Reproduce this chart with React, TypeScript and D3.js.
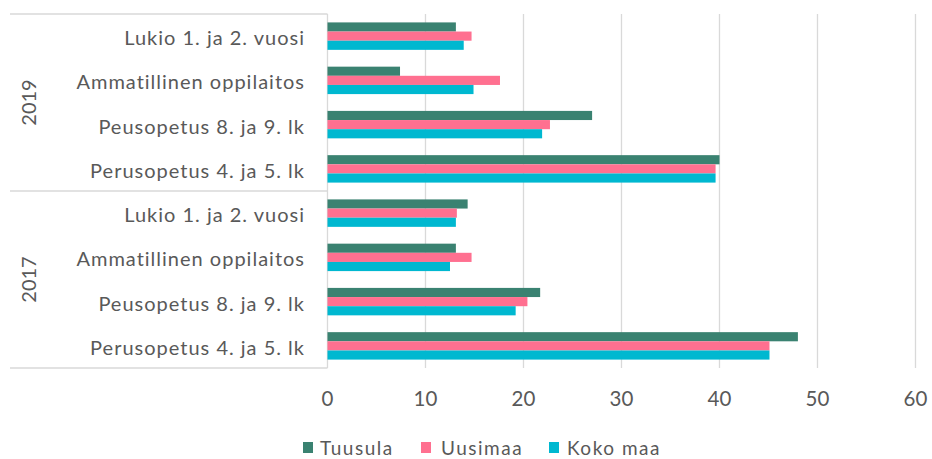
import React from "react";
import * as d3 from "d3";

const years = ["2019", "2017"];
const categories = [
  "Lukio 1. ja 2. vuosi",
  "Ammatillinen oppilaitos",
  "Peusopetus 8. ja 9. lk",
  "Perusopetus 4. ja 5. lk",
];
const seriesNames = ["Tuusula", "Uusimaa", "Koko maa"];
const seriesColors = ["#3A8271", "#FF7090", "#00B8D0"];
// values per year, in category order, per series
const tuusula2019 = [13.1, 7.4, 27.0, 40.0];
const uusimaa2019 = [14.7, 17.6, 22.7, 39.6];
const kokomaa2019 = [13.9, 14.9, 21.9, 39.6];
const tuusula2017 = [14.3, 13.1, 21.7, 48.0];
const uusimaa2017 = [13.2, 14.7, 20.4, 45.1];
const kokomaa2017 = [13.1, 12.5, 19.2, 45.1];
const xTicks = [0, 10, 20, 30, 40, 50, 60];

const W = 932;
const H = 459;
const left = 327.5;
const right = 915.5;
const top = 14;
const bottom = 368;

export default function App() {
  const rows: { year: string; cat: string; vals: number[] }[] = [];
  const data: Record<string, number[][]> = {
    "2019": [tuusula2019, uusimaa2019, kokomaa2019],
    "2017": [tuusula2017, uusimaa2017, kokomaa2017],
  };
  years.forEach((y) => {
    categories.forEach((c, i) => {
      rows.push({ year: y, cat: c, vals: data[y].map((s) => s[i]) });
    });
  });
  const keys = rows.map((r) => r.year + "|" + r.cat);
  const x = d3.scaleLinear().domain([0, 60]).range([left, right]);
  const y = d3.scaleBand().domain(keys).range([top, bottom]).paddingInner(0.38).paddingOuter(0.19);
  const inner = d3.scaleBand().domain(seriesNames).range([0, y.bandwidth()]);
  const font = "Lato, 'Open Sans', sans-serif";
  const textColor = "#595959";
  const grid = "#D9D9D9";
  const mid = (top + bottom) / 2;

  const legendX = [303, 421, 549];
  const legendTextX = [320, 441, 567];

  return (
    <svg width={W} height={H} style={{ position: "absolute", left: 0, top: 0 }} fontFamily={font}>
      <rect x={0} y={0} width={W} height={H} fill="#fff" />
      {xTicks.slice(1).map((t) => (
        <line key={t} x1={x(t)} x2={x(t)} y1={top} y2={bottom} stroke={grid} strokeWidth={1.3} />
      ))}
      {/* table lines */}
      <line x1={10} x2={left} y1={top} y2={top} stroke={grid} strokeWidth={1.3} />
      <line x1={10} x2={left} y1={mid} y2={mid} stroke={grid} strokeWidth={1.3} />
      <line x1={10} x2={left} y1={bottom} y2={bottom} stroke={grid} strokeWidth={1.3} />
      <line x1={left} x2={left} y1={top} y2={bottom} stroke={grid} strokeWidth={1.3} />
      {rows.map((r, i) => (
        <g key={keys[i]}>
          {r.vals.map((v, j) => (
            <rect
              key={j}
              x={x(0)}
              y={(y(keys[i]) as number) + (inner(seriesNames[j]) as number)}
              width={x(v) - x(0)}
              height={inner.bandwidth()}
              fill={seriesColors[j]}
            />
          ))}
          <text
            x={305}
            y={(y(keys[i]) as number) + y.bandwidth() / 2 + 1}
            textAnchor="end"
            dominantBaseline="central"
            fontSize={20}
            letterSpacing={1}
            fill={textColor}
          >
            {r.cat}
          </text>
        </g>
      ))}
      {years.map((yr, k) => {
        const cy = k === 0 ? (top + mid) / 2 : (mid + bottom) / 2;
        return (
          <text
            key={yr}
            transform={`translate(28,${cy}) rotate(-90)`}
            textAnchor="middle"
            dominantBaseline="central"
            fontSize={20}
            fill={textColor}
          >
            {yr}
          </text>
        );
      })}
      {xTicks.map((t) => (
        <text key={t} x={x(t)} y={398} textAnchor="middle" dominantBaseline="central" fontSize={20.5} fill={textColor}>
          {t}
        </text>
      ))}
      {seriesNames.map((s, i) => (
        <g key={s}>
          <rect x={legendX[i]} y={442} width={10} height={11} fill={seriesColors[i]} />
          <text x={legendTextX[i]} y={447} dominantBaseline="central" fontSize={19} letterSpacing={1.5} fill={textColor}>
            {s}
          </text>
        </g>
      ))}
    </svg>
  );
}
